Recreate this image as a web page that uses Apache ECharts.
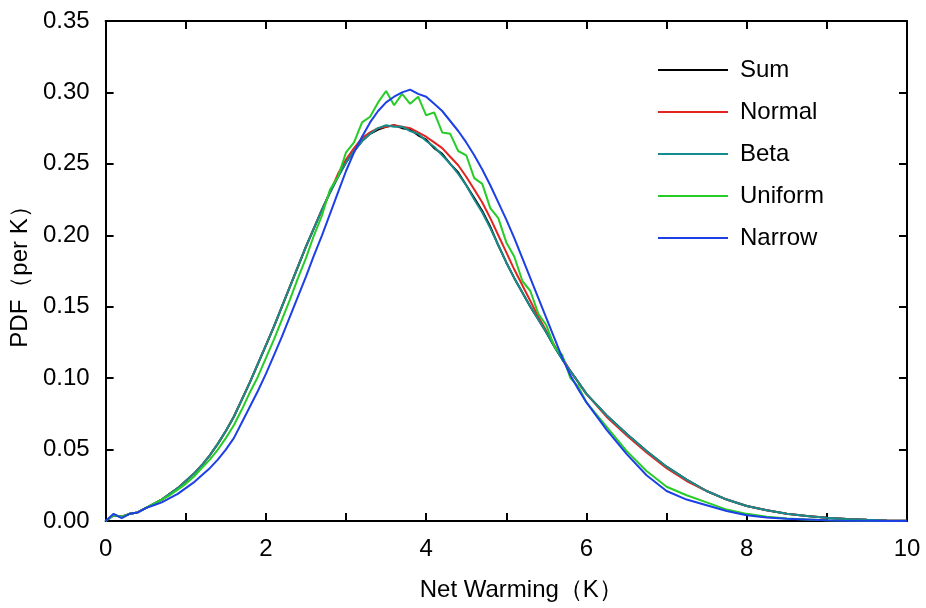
<!DOCTYPE html>
<html>
<head>
<meta charset="utf-8">
<script src="https://cdn.jsdelivr.net/npm/echarts@6/dist/echarts.min.js"></script>
<style>
html,body{margin:0;padding:0;background:#fff;}
#chart{width:926px;height:608px;}
</style>
</head>
<body>
<div id="chart"></div>
<script>
// Net warming (K)
const warming = [0,0.1,0.2,0.3,0.4,0.5,0.6,0.7,0.8,0.9,1.0,1.1,1.2,1.3,1.4,1.5,1.6,1.7,1.8,1.9,2.0,2.1,2.2,2.3,2.4,2.5,2.6,2.7,2.8,2.9,3.0,3.1,3.2,3.3,3.4,3.5,3.6,3.7,3.8,3.9,4.0,4.1,4.2,4.3,4.4,4.5,4.6,4.7,4.8,4.9,5.0,5.1,5.2,5.3,5.4,5.5,5.6,5.7,5.8,5.9,6.0,6.25,6.5,6.75,7.0,7.25,7.5,7.75,8.0,8.25,8.5,8.75,9.0,9.25,9.5,9.75,10];

const sumPdf = [0.000,0.004,0.003,0.005,0.006,0.009,0.012,0.015,0.019,0.023,0.028,0.033,0.039,0.046,0.054,0.063,0.073,0.085,0.097,0.110,0.123,0.136,0.150,0.164,0.178,0.192,0.205,0.218,0.230,0.241,0.251,0.259,0.266,0.271,0.274,0.276,0.277,0.275,0.274,0.270,0.267,0.261,0.257,0.250,0.244,0.235,0.226,0.217,0.206,0.193,0.181,0.170,0.160,0.150,0.141,0.132,0.122,0.113,0.105,0.097,0.089,0.074,0.061,0.049,0.038,0.029,0.021,0.015,0.0105,0.0075,0.0050,0.0035,0.0022,0.0014,0.0008,0.0004,0.0002];

const normalPdf = [0.000,0.004,0.003,0.005,0.006,0.009,0.012,0.015,0.019,0.023,0.028,0.033,0.039,0.046,0.054,0.063,0.073,0.085,0.097,0.110,0.123,0.136,0.150,0.164,0.178,0.192,0.205,0.218,0.230,0.243,0.253,0.261,0.268,0.272,0.275,0.276,0.277,0.276,0.275,0.272,0.269,0.265,0.261,0.255,0.249,0.241,0.232,0.223,0.212,0.200,0.188,0.176,0.165,0.154,0.143,0.133,0.123,0.114,0.105,0.097,0.089,0.073,0.060,0.048,0.037,0.028,0.021,0.015,0.0105,0.0075,0.0050,0.0035,0.0022,0.0014,0.0008,0.0004,0.0002];

const betaPdf = [0.000,0.004,0.003,0.005,0.006,0.009,0.012,0.015,0.019,0.023,0.028,0.033,0.039,0.046,0.054,0.063,0.073,0.085,0.097,0.110,0.123,0.136,0.150,0.164,0.178,0.192,0.205,0.218,0.230,0.241,0.251,0.259,0.266,0.271,0.275,0.277,0.276,0.276,0.273,0.271,0.266,0.262,0.256,0.250,0.243,0.235,0.225,0.216,0.205,0.193,0.181,0.170,0.160,0.150,0.141,0.132,0.122,0.113,0.105,0.097,0.089,0.074,0.061,0.049,0.038,0.029,0.021,0.015,0.0105,0.0075,0.0050,0.0035,0.0022,0.0014,0.0008,0.0004,0.0002];

const uniformPdf = [0.000,0.004,0.003,0.005,0.006,0.009,0.012,0.015,0.018,0.022,0.026,0.031,0.037,0.043,0.050,0.058,0.067,0.078,0.090,0.101,0.114,0.127,0.141,0.155,0.170,0.184,0.200,0.214,0.232,0.241,0.258,0.265,0.279,0.283,0.293,0.301,0.291,0.299,0.292,0.297,0.284,0.286,0.272,0.271,0.259,0.256,0.240,0.236,0.219,0.212,0.195,0.185,0.168,0.161,0.145,0.137,0.122,0.116,0.100,0.094,0.083,0.066,0.049,0.035,0.024,0.018,0.013,0.008,0.005,0.003,0.0018,0.001,0.0006,0.0003,0.0001,0,0];

const narrowPdf = [0.000,0.005,0.002,0.005,0.006,0.009,0.011,0.013,0.016,0.019,0.023,0.027,0.032,0.037,0.043,0.050,0.058,0.069,0.080,0.091,0.103,0.116,0.129,0.143,0.157,0.171,0.186,0.200,0.215,0.230,0.245,0.258,0.269,0.279,0.287,0.293,0.297,0.300,0.302,0.299,0.297,0.292,0.287,0.280,0.273,0.265,0.256,0.246,0.235,0.223,0.211,0.198,0.184,0.170,0.156,0.142,0.128,0.114,0.102,0.092,0.083,0.064,0.047,0.032,0.021,0.015,0.011,0.007,0.004,0.0025,0.0015,0.001,0.0005,0.0002,0.0001,0,0];

const seriesNames = ['Sum','Normal','Beta','Uniform','Narrow'];
const seriesColors = ['#000000','#e3241f','#178c8c','#27cc27','#1c3fe6'];
const seriesValues = [sumPdf, normalPdf, betaPdf, uniformPdf, narrowPdf];

const FONT = 'Liberation Sans, Arial, Helvetica, sans-serif';
const chart = echarts.init(document.getElementById('chart'), null, {renderer:'canvas'});

const axisLine = {show:true, onZero:false, lineStyle:{color:'#000', width:2}};
const tickStyle = {show:true, inside:true, length:8, lineStyle:{color:'#000', width:2}};

const option = {
  animation:false,
  backgroundColor:'#fff',
  grid:{left:105, top:21, right:19, bottom:87, containLabel:false},
  legend:{
    orient:'vertical',
    left:653, top:53,
    icon:'rect', itemWidth:70, itemHeight:2, itemGap:18,
    textStyle:{fontFamily:FONT, fontSize:24, color:'#000', padding:[0,0,0,7]},
    data:seriesNames
  },
  xAxis:[{
    type:'value', min:0, max:10, interval:1,
    name:'Net Warming\uFF08K\uFF09', nameLocation:'middle', nameGap:57,
    nameTextStyle:{fontFamily:FONT, fontSize:24, color:'#000', padding:[0,0,0,30]},
    axisLine:axisLine, axisTick:tickStyle, splitLine:{show:false},
    axisLabel:{fontFamily:FONT, fontSize:24, color:'#000', margin:16,
      formatter:function(v){return (Math.round(v)%2===0)?String(Math.round(v)):'';}}
  },{
    type:'value', min:0, max:10, interval:1, position:'top',
    axisLine:axisLine, axisTick:tickStyle, splitLine:{show:false}, axisLabel:{show:false}
  }],
  yAxis:[{
    type:'value', min:0, max:0.35, interval:0.05,
    name:'PDF\uFF08per K\uFF09', nameLocation:'middle', nameGap:71,
    nameTextStyle:{fontFamily:FONT, fontSize:24, color:'#000'},
    axisLine:axisLine, axisTick:tickStyle, splitLine:{show:false},
    axisLabel:{fontFamily:FONT, fontSize:24, color:'#000', margin:16,
      formatter:function(v){return v.toFixed(2);}}
  },{
    type:'value', min:0, max:0.35, interval:0.05, position:'right',
    axisLine:axisLine, axisTick:tickStyle, splitLine:{show:false}, axisLabel:{show:false}
  }],
  series: seriesNames.map(function(name, i){
    return {
      name:name, type:'line', xAxisIndex:0, yAxisIndex:0,
      data: warming.map(function(x, j){return [x, seriesValues[i][j]];}),
      showSymbol:false, symbol:'none', smooth:false,
      color:seriesColors[i],
      lineStyle:{color:seriesColors[i], width:2},
      z:2+i
    };
  })
};
chart.setOption(option);
</script>
</body>
</html>
